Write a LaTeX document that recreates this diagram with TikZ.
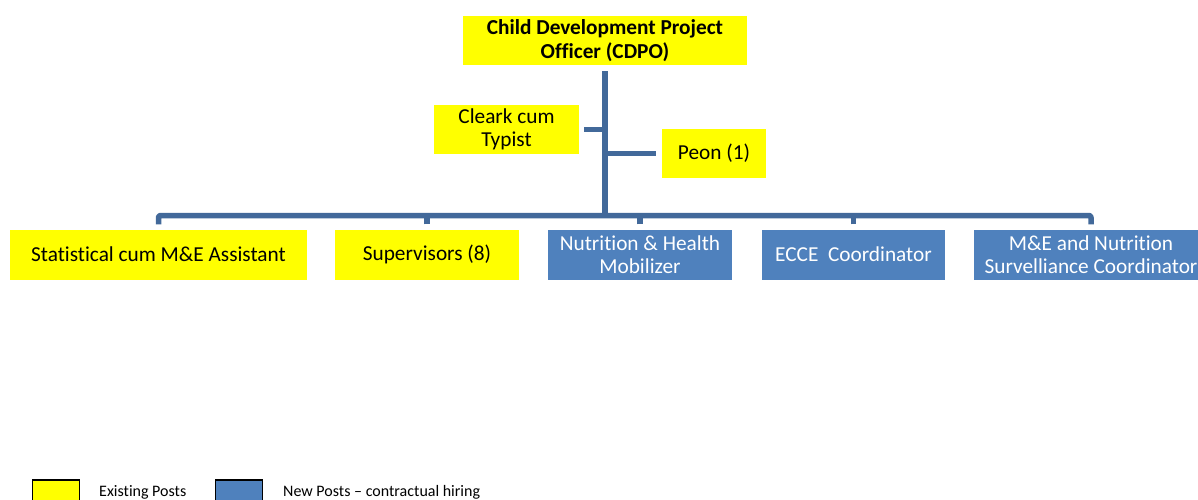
\documentclass[tikz,border=0pt]{standalone}
\usepackage{fontspec}
\setmainfont{Carlito}[Ligatures={NoCommon}]
\definecolor{oyellow}{HTML}{FFFF00}
\definecolor{oblue}{HTML}{4F81BD}
\definecolor{oline}{HTML}{42699A}
\begin{document}
\begin{tikzpicture}[x=1pt,y=-1pt,
  ybox/.style={fill=oyellow, inner sep=0pt, align=center, text=black,
    font=\fontsize{21.3}{23.5}\selectfont},
  bbox/.style={fill=oblue, inner sep=0pt, align=center, text=white,
    font=\fontsize{21.3}{23.5}\selectfont},
  conn/.style={draw=oline, line width=5.5pt, line cap=butt, line join=round},
  legsq/.style={draw=black, line width=1.5pt, minimum width=47pt, minimum height=26pt, inner sep=0pt},
  legtxt/.style={anchor=base west, inner sep=0pt, font=\fontsize{16}{18}\selectfont}
]
\clip (0,0) rectangle (1198,500);
\fill[white] (0,0) rectangle (1198,500);

% top
\node[ybox, minimum width=284pt, minimum height=49pt, font=\bfseries\fontsize{21.3}{24}\selectfont] (cdpo) at (605,40.5) {Child Development Project\\Officer (CDPO)};
\node[ybox, minimum width=145pt, minimum height=49pt] (clerk) at (506.5,129.5) {Cleark cum\\Typist};
\node[ybox, minimum width=104pt, minimum height=49pt] (peon) at (714,153.5) {Peon (1)};

% bottom row
\node[ybox, minimum width=297pt, minimum height=50pt] (stat) at (158.5,254.5) {Statistical cum M\&E Assistant};
\node[ybox, minimum width=184pt, minimum height=50pt] (sup) at (427,254.5) {Supervisors (8)};
\node[bbox, minimum width=184pt, minimum height=50pt] (nut) at (640,254.5) {Nutrition \& Health\\Mobilizer};
\node[bbox, minimum width=183pt, minimum height=50pt] (ecce) at (853.5,254.5) {ECCE\ \ Coordinator};
\node[bbox, minimum width=234pt, minimum height=50pt] (me) at (1091,254.5) {M\&E and Nutrition\\Survelliance Coordinator};

% connectors
\coordinate (bus) at (605,215.5);
\draw[conn] ([yshift=-6pt]cdpo.south) -- (bus);
\draw[conn] ([xshift=5pt]clerk.east) -- (clerk.east -| bus);
\draw[conn] (peon.west -| bus) -- ([xshift=-6pt]peon.west);
\draw[conn, rounded corners=2pt] ([yshift=5pt]stat.north) |- (bus) -| ([yshift=5pt]me.north);
\draw[conn] ([yshift=5pt]sup.north) -- (sup.north |- bus);
\draw[conn] ([yshift=5pt]nut.north) -- (nut.north |- bus);
\draw[conn] ([yshift=5pt]ecce.north) -- (ecce.north |- bus);

% legend
\node[legsq, fill=oyellow] (lgy) at (56,493) {};
\node[legtxt] (lgyt) at (99,496) {Existing Posts};
\node[legsq, fill=oblue] (lgb) at (239,493) {};
\node[legtxt] (lgbt) at (283,496) {New Posts -- contractual hiring};
\end{tikzpicture}
\end{document}
